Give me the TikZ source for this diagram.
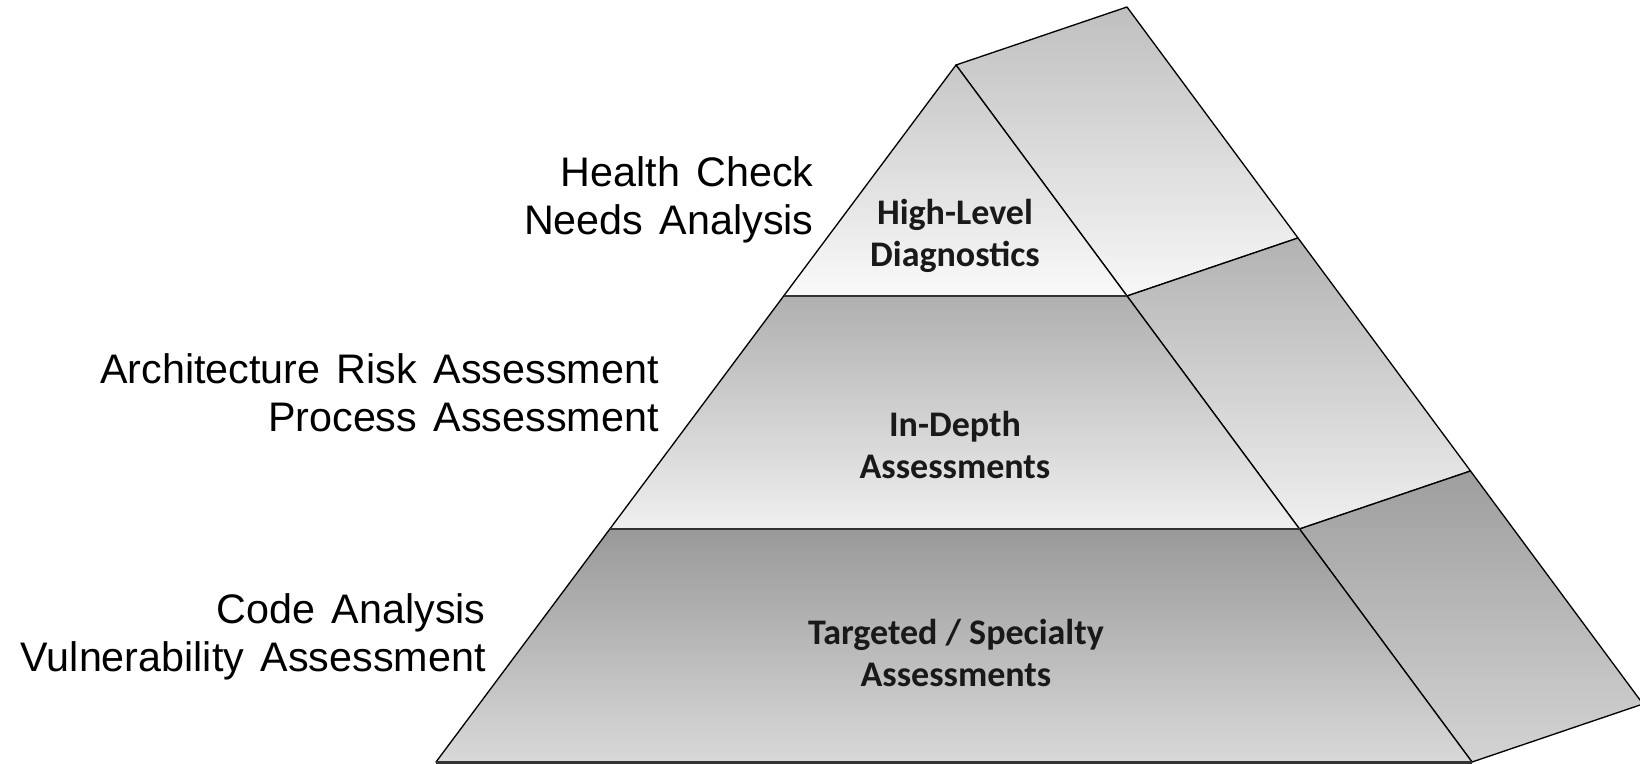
\documentclass[tikz,border=0pt]{standalone}
\usepackage{fontspec}
\setmainfont{Liberation Sans}
\newfontfamily\tierfont{Carlito}
\usetikzlibrary{calc}
% side text: slightly wider gaps between words
\newcommand\sidefont{\fontsize{23.5}{27.5}\selectfont\spaceskip=0.4em\relax}

\begin{document}
\begin{tikzpicture}[x=0.02cm, y=0.02cm,
    face/.style={draw=black, line width=0.75pt, line join=round},
    tierline/.style={draw=black!80, line width=1.4pt},
    sidelabel/.style={anchor=east, align=right, inner sep=0pt, font=\sidefont},
    tierlabel/.style={align=center, inner sep=0pt, text=black!90, font=\tierfont\bfseries\fontsize{20.5}{23.5}\selectfont}]
    \useasboundingbox (0,0) rectangle (1640,-764);

    % front triangle and the two cuts
    \coordinate (apex) at (956,-65);
    \coordinate (bl) at (436,-762);
    \coordinate (br) at (1472,-762);
    \coordinate (l1) at ($(apex)!0.3314!(bl)$);
    \coordinate (r1) at ($(apex)!0.3314!(br)$);
    \coordinate (l2) at ($(apex)!0.6657!(bl)$);
    \coordinate (r2) at ($(apex)!0.6657!(br)$);
    % back edge
    \coordinate (apexb) at ($(apex)+(171,58)$);
    \coordinate (r1b) at ($(r1)+(171,58)$);
    \coordinate (r2b) at ($(r2)+(171,58)$);
    \coordinate (brb) at ($(br)+(171,58)$);

    % side faces
    \draw[face, top color=black!25, bottom color=black!3] (apex) -- (apexb) -- (r1b) -- (r1) -- cycle;
    \draw[face, top color=black!30, bottom color=black!6] (r1) -- (r1b) -- (r2b) -- (r2) -- cycle;
    \draw[face, top color=black!38, bottom color=black!17] (r2) -- (r2b) -- (brb) -- (br) -- cycle;

    % front faces
    \draw[face, top color=black!22, bottom color=black!2] (apex) -- (l1) -- (r1) -- cycle;
    \draw[face, top color=black!31, bottom color=black!6] (l1) -- (l2) -- (r2) -- (r1) -- cycle;
    \draw[face, top color=black!40, bottom color=black!15] (l2) -- (bl) -- (br) -- (r2) -- cycle;
    \draw[tierline] (l1) -- (r1);
    \draw[tierline] (l2) -- (r2);
    \draw[tierline, line width=1.7pt] (bl) -- (br);

    \node[tierlabel] (diag) at (955,-236) {High-Level\\Diagnostics};
    \node[tierlabel] (depth) at (955,-445) {In-Depth\\Assessments};
    \node[tierlabel] (target) at (956,-653) {Targeted / Specialty\\Assessments};

    \node[sidelabel] (health) at (814,-200) {Health Check\\Needs Analysis};
    \node[sidelabel] (arch) at (659,-393) {Architecture Risk Assessment\\Process Assessment};
    \node[sidelabel] (code) at (486,-637) {Code Analysis\\Vulnerability Assessment};
\end{tikzpicture}
\end{document}
